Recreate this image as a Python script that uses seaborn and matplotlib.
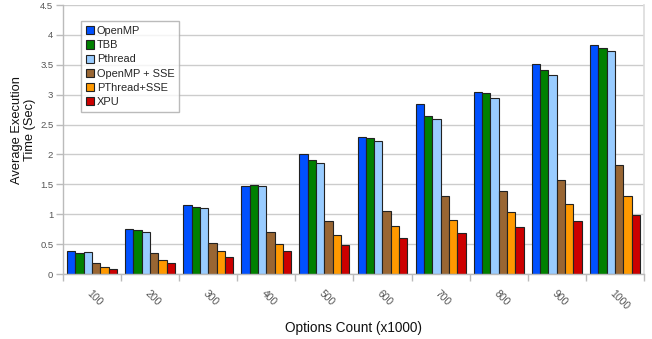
import matplotlib
matplotlib.use("Agg")
import matplotlib.pyplot as plt
import seaborn as sns
import pandas as pd
import numpy as np

counts = ["100", "200", "300", "400", "500", "600", "700", "800", "900", "1000"]
series = ["OpenMP", "TBB", "Pthread", "OpenMP + SSE", "PThread+SSE", "XPU"]
openmp = [0.38, 0.75, 1.15, 1.47, 2.00, 2.29, 2.85, 3.05, 3.51, 3.83]
tbb = [0.35, 0.73, 1.12, 1.49, 1.91, 2.27, 2.64, 3.03, 3.41, 3.78]
pthread = [0.36, 0.71, 1.10, 1.48, 1.86, 2.23, 2.59, 2.95, 3.33, 3.73]
openmp_sse = [0.18, 0.35, 0.52, 0.70, 0.89, 1.06, 1.30, 1.39, 1.57, 1.83]
pthread_sse = [0.12, 0.24, 0.39, 0.51, 0.66, 0.80, 0.90, 1.04, 1.17, 1.30]
xpu = [0.09, 0.18, 0.29, 0.38, 0.49, 0.61, 0.68, 0.78, 0.88, 0.98]
colors = ["#0050ff", "#008000", "#99ccff", "#996633", "#ff9900", "#cc0000"]

values = [openmp, tbb, pthread, openmp_sse, pthread_sse, xpu]
df = pd.DataFrame({
    "count": counts * len(series),
    "impl": np.repeat(series, len(counts)),
    "time": np.concatenate(values),
})

sns.set_theme(style="white")
plt.rcParams["font.family"] = ["Liberation Sans", "DejaVu Sans"]

fig = plt.figure(figsize=(6.52, 3.39), dpi=100)
ax = fig.add_axes([0.0966, 0.1917, 0.891, 0.7933])

sns.barplot(data=df, x="count", y="time", hue="impl", order=counts,
            hue_order=series, palette=colors, width=0.86, saturation=1,
            edgecolor="#222222", linewidth=0.8, ax=ax)

ax.set_ylim(0, 4.5)
ax.set_xlim(-0.5, len(counts) - 0.5)
ax.set_yticks(np.arange(0, 4.51, 0.5))
ax.set_yticklabels([f"{v:g}" for v in np.arange(0, 4.51, 0.5)])
ax.yaxis.grid(True, color="#cccccc", linewidth=1)
ax.set_axisbelow(True)

ax.set_xticks(range(len(counts)))
ax.set_xticklabels(counts, rotation=-45, ha="left", va="top",
                   rotation_mode="anchor")
ax.set_xticks(np.arange(-0.5, len(counts), 1.0), minor=True)
ax.tick_params(axis="x", which="major", length=0, pad=10,
               labelsize=7.5, labelcolor="#555555")
ax.tick_params(axis="x", which="minor", length=5, width=1,
               color="#bbbbbb", bottom=True)
ax.tick_params(axis="y", length=5, width=1, color="#bbbbbb", left=True,
               labelsize=6.8, labelcolor="#555555", pad=2)

for side in ["left", "bottom"]:
    ax.spines[side].set_color("#bbbbbb")
    ax.spines[side].set_linewidth(1)
ax.spines["right"].set_color("#dddddd")
ax.spines["top"].set_visible(False)

ax.set_xlabel("Options Count (x1000)", fontsize=9.8, color="#111111")
ax.xaxis.set_label_coords(0.5, -0.175)
ax.set_ylabel("Average Execution\nTime (Sec)", fontsize=9.3,
              color="#111111", linespacing=1.05)
ax.yaxis.set_label_coords(-0.047, 0.535)

leg = ax.legend(loc="upper left", bbox_to_anchor=(0.031, 0.94), fontsize=7.9,
                frameon=True, fancybox=False, edgecolor="#aaaaaa",
                handlelength=0.75, handleheight=0.75, handletextpad=0.25,
                labelspacing=0.38, borderpad=0.45, borderaxespad=0)
leg.get_frame().set_linewidth(1)

fig.savefig("out.png", dpi=100)
